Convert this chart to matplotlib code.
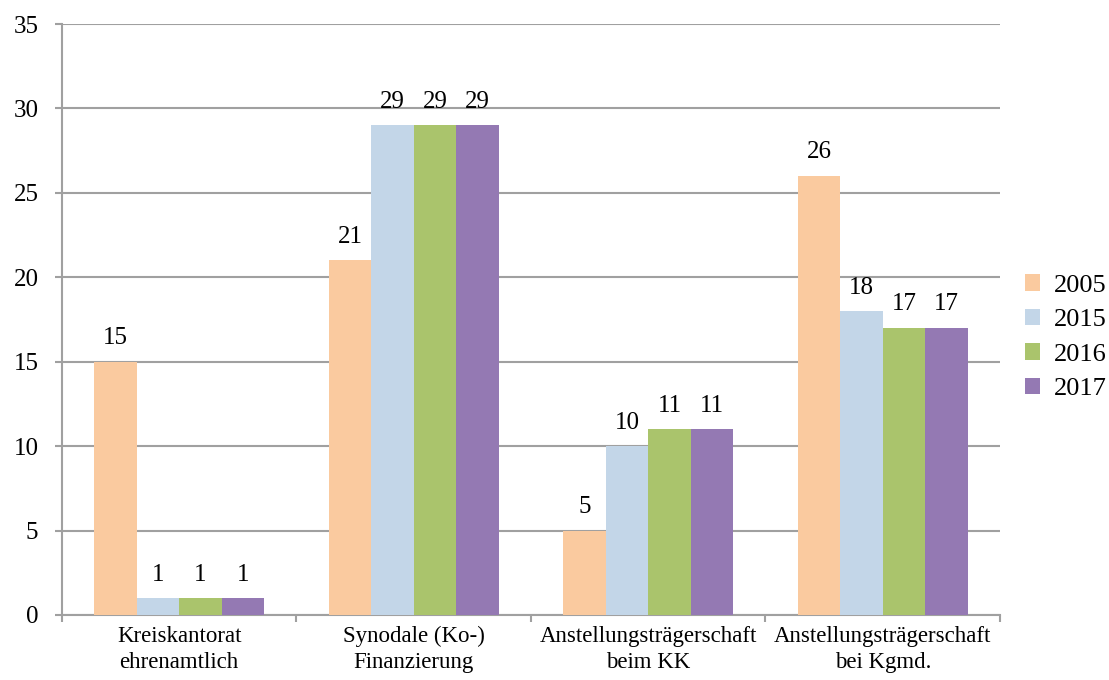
import numpy as np
import matplotlib.pyplot as plt

plt.rcParams['font.family'] = ['Liberation Serif', 'DejaVu Serif']

categories = ['Kreiskantorat\nehrenamtlich', 'Synodale (Ko-)\nFinanzierung',
              'Anstellungsträgerschaft\nbeim KK', 'Anstellungsträgerschaft\nbei Kgmd.']
years = ['2005', '2015', '2016', '2017']
v2005 = [15, 21, 5, 26]
v2015 = [1, 29, 10, 18]
v2016 = [1, 29, 11, 17]
v2017 = [1, 29, 11, 17]
series = [v2005, v2015, v2016, v2017]
colors = ['#FACA9F', '#C3D6E8', '#AAC46C', '#9479B3']

grid_c = '#A0A0A0'
fig = plt.figure(figsize=(11.09, 6.80), dpi=100)
ax = fig.add_axes([0.0559, 0.0956, 0.8458, 0.8691])

x = np.arange(len(categories))
w = 0.181
for i, (vals, c, lab) in enumerate(zip(series, colors, years)):
    pos = x + (i - 1.5) * w
    bars = ax.bar(pos, vals, w, color=c, label=lab, zorder=3)
    for b, v in zip(bars, vals):
        ax.annotate(str(v), (b.get_x() + b.get_width() / 2, v),
                    xytext=(0, 9), textcoords='offset points',
                    ha='center', va='bottom', fontsize=18)

ax.set_xlim(-0.5, 3.5)
ax.set_ylim(0, 35)
ax.set_yticks(range(0, 36, 5))
ax.yaxis.grid(True, color=grid_c, linewidth=1.5, zorder=0)
ax.set_axisbelow(True)

ax.set_xticks(x)
ax.set_xticklabels(categories, fontsize=16.5, linespacing=1.3)
ax.set_xticks(np.arange(-0.5, 4, 1), minor=True)
ax.tick_params(axis='x', which='major', length=0, pad=8)
ax.tick_params(axis='x', which='minor', length=5, width=1.5, color=grid_c)
ax.tick_params(axis='y', length=5, width=1.5, color=grid_c, labelsize=18, pad=12)

for s in ['top', 'right']:
    ax.spines[s].set_visible(False)
for s in ['left', 'bottom']:
    ax.spines[s].set_color(grid_c)
    ax.spines[s].set_linewidth(1.5)

ax.legend(loc='center left', bbox_to_anchor=(1.015, 0.47), frameon=False,
          fontsize=19, handlelength=0.6, handleheight=0.6, handletextpad=0.5,
          labelspacing=0.45, borderaxespad=0)

fig.savefig('out.png', dpi=100)
